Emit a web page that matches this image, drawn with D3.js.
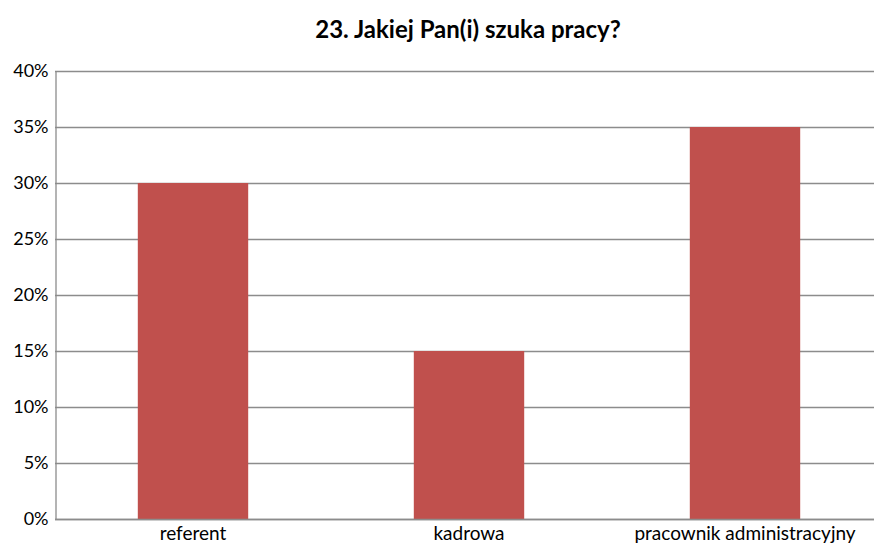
<!DOCTYPE html>
<html>
<head>
<meta charset="utf-8">
<script src="https://cdn.jsdelivr.net/npm/d3@7"></script>
<style>
  body { margin: 0; background: #fff; }
  text { font-family: Lato, Carlito, sans-serif; fill: #000; }
</style>
</head>
<body>
<script>
// Chart data
var categories = ["referent", "kadrowa", "pracownik administracyjny"];
var values = [0.30, 0.15, 0.35];
var yTicks = [0, 0.05, 0.10, 0.15, 0.20, 0.25, 0.30, 0.35, 0.40];
var title = "23. Jakiej Pan(i) szuka pracy?";

var width = 874, height = 544;
var margin = {left: 55, right: -9, top: 71, bottom: 25};

var svg = d3.select("body")
    .append("svg")
    .attr("width", width)
    .attr("height", height);

var x = d3.scaleBand()
    .domain(categories)
    .range([margin.left, width - margin.right])
    .paddingInner(0.6)
    .paddingOuter(0.3);

var y = d3.scaleLinear()
    .domain([0, 0.4])
    .range([height - margin.bottom, margin.top]);

// gridlines
svg.append("g")
    .selectAll("line")
    .data(yTicks)
    .enter().append("line")
    .attr("x1", margin.left)
    .attr("x2", width)
    .attr("y1", function(d) { return Math.round(y(d)) + 0.5; })
    .attr("y2", function(d) { return Math.round(y(d)) + 0.5; })
    .attr("stroke", "#8c8c8c")
    .attr("stroke-width", 1.3);

// bars
svg.append("g")
    .selectAll("rect")
    .data(values)
    .enter().append("rect")
    .attr("x", function(d, i) { return x(categories[i]); })
    .attr("y", function(d) { return y(d); })
    .attr("width", x.bandwidth())
    .attr("height", function(d) { return y(0) - y(d); })
    .attr("fill", "#c0504d");

// y axis
var yAxis = d3.axisLeft(y)
    .tickValues(yTicks)
    .tickSize(0)
    .tickPadding(7)
    .tickFormat(d3.format(".0%"));

svg.append("g")
    .attr("transform", "translate(" + (margin.left + 0.5) + ",0)")
    .call(yAxis)
    .call(function(g) {
        g.select(".domain").attr("stroke", "#8c8c8c").attr("stroke-width", 1.3);
        g.selectAll("text").style("font-size", "18px")
            .style("font-family", "Lato, Carlito, sans-serif");
    });

// x axis
var xAxis = d3.axisBottom(x)
    .tickSize(0)
    .tickPadding(7);

svg.append("g")
    .attr("transform", "translate(0," + (Math.round(y(0)) + 0.5) + ")")
    .call(xAxis)
    .call(function(g) {
        g.select(".domain").remove();
        g.selectAll("text").style("font-size", "19px")
            .style("font-family", "Lato, Carlito, sans-serif");
    });

// bottom line
svg.append("line")
    .attr("x1", margin.left)
    .attr("x2", width)
    .attr("y1", Math.round(y(0)) + 0.5)
    .attr("y2", Math.round(y(0)) + 0.5)
    .attr("stroke", "#8c8c8c")
    .attr("stroke-width", 1.3);

// title
svg.append("text")
    .attr("x", 468)
    .attr("y", 38)
    .attr("text-anchor", "middle")
    .style("font-size", "24px")
    .style("font-weight", "bold")
    .text(title);
</script>
</body>
</html>
